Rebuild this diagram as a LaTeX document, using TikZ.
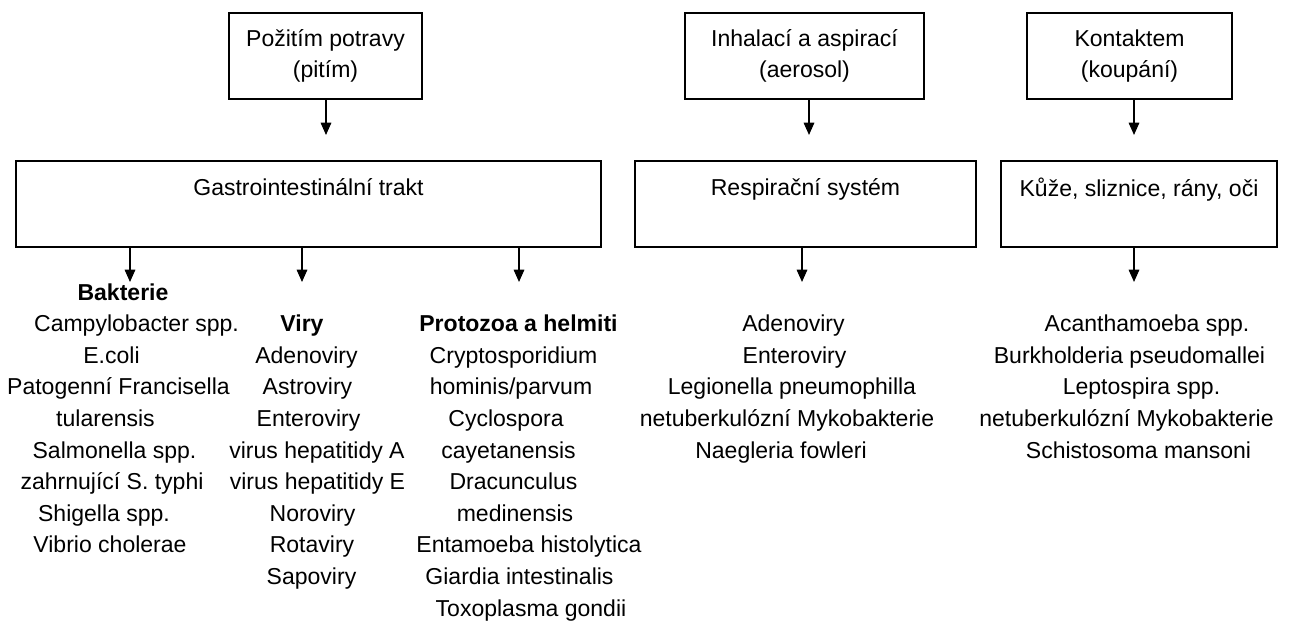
\documentclass[tikz,border=0pt]{standalone}
\usepackage{fontspec}
\setmainfont{Liberation Sans}
\usetikzlibrary{arrows.meta}

\tikzset{
  txt/.style={font=\fontsize{13.1pt}{18pt}\selectfont},
  box/.style={txt,draw,line width=0.8pt,align=center,inner sep=0pt,minimum height=1.72cm},
  arr/.style={line width=0.8pt,-{Triangle[width=6pt,length=7pt]}},
  item/.style={txt,anchor=base,inner sep=0pt}
}

\begin{document}
\begin{tikzpicture}[x=0.02cm,y=-0.02cm]
\useasboundingbox (0,0) rectangle (1294,622);

\node[box,minimum width=3.86cm] (potrava) at (325.5,56) {Požitím potravy\\(pitím)};
\node[box,minimum width=4.78cm] (aerosol) at (804.5,56) {Inhalací a aspirací\\(aerosol)};
\node[box,minimum width=4.10cm] (kontakt) at (1129.5,56) {Kontaktem\\(koupání)};

\node[box,minimum width=11.70cm] (gastro) at (308.5,204) {Gastrointestinální trakt\\[-4.6pt] \strut};
\node[box,minimum width=6.82cm] (resp) at (805.5,204) {Respirační systém\\[-4.6pt] \strut};
\node[box,minimum width=5.52cm] (kuze) at (1139,204) {Kůže, sliznice, rány, oči\\[-4.6pt] \strut};

\coordinate (tipA) at (326,135);
\coordinate (tipB) at (809,135);
\coordinate (tipC) at (1134,135);
\draw[arr] (potrava.south -| tipA) -- (tipA);
\draw[arr] (aerosol.south -| tipB) -- (tipB);
\draw[arr] (kontakt.south -| tipC) -- (tipC);

\coordinate (tipBak) at (130,282);
\coordinate (tipVir) at (302,282);
\coordinate (tipPro) at (519,282);
\coordinate (tipRes) at (802,282);
\coordinate (tipKuz) at (1134,282);
\draw[arr] (gastro.south -| tipBak) -- (tipBak);
\draw[arr] (gastro.south -| tipVir) -- (tipVir);
\draw[arr] (gastro.south -| tipPro) -- (tipPro);
\draw[arr] (resp.south -| tipRes) -- (tipRes);
\draw[arr] (kuze.south -| tipKuz) -- (tipKuz);

\foreach \x/\t [count=\i] in {123/\textbf{Bakterie},136.5/Campylobacter spp.,111.5/E.coli,
  118.5/Patogenní Francisella,105.5/tularensis,114.5/Salmonella spp.,
  112/zahrnující S. typhi,104/Shigella spp.,110/Vibrio cholerae}
  \node[item] (bak\i) at (\x,300+31.6*\i-31.6) {\t};

\foreach \x/\t [count=\i] in {302/\textbf{Viry},306.5/Adenoviry,307.5/Astroviry,308.5/Enteroviry,
  317/virus hepatitidy A,317.5/virus hepatitidy E,312.5/Noroviry,312/Rotaviry,311.5/Sapoviry}
  \node[item] (vir\i) at (\x,331.6+31.6*\i-31.6) {\t};

\foreach \x/\t [count=\i] in {518.5/\textbf{Protozoa a helmiti},513.5/Cryptosporidium,
  511/{hominis/parvum},506/Cyclospora,508.5/cayetanensis,513.5/Dracunculus,515/medinensis,
  529/Entamoeba histolytica,519.5/Giardia intestinalis,531/Toxoplasma gondii}
  \node[item] (pro\i) at (\x,331.6+31.6*\i-31.6) {\t};

\foreach \x/\t [count=\i] in {793.5/Adenoviry,794.5/Enteroviry,792/Legionella pneumophilla,
  787/netuberkulózní Mykobakterie,781/Naegleria fowleri}
  \node[item] (res\i) at (\x,331.6+31.6*\i-31.6) {\t};

\foreach \x/\t [count=\i] in {1147/Acanthamoeba spp.,1129.5/Burkholderia pseudomallei,
  1141.5/Leptospira spp.,1126.5/netuberkulózní Mykobakterie,1138.5/Schistosoma mansoni}
  \node[item] (kuz\i) at (\x,331.6+31.6*\i-31.6) {\t};

\end{tikzpicture}
\end{document}
